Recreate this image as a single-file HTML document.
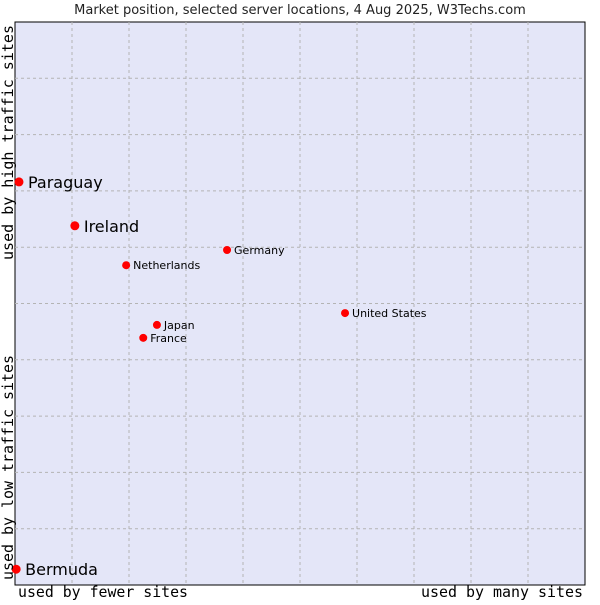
<!DOCTYPE html>
<html><head><meta charset="utf-8"><style>
body{margin:0;background:#fff;width:600px;height:600px;overflow:hidden}
svg{font-family:"DejaVu Sans","Liberation Sans",sans-serif}
</style></head><body>
<svg id="c" width="600" height="600">
<text x="300" y="14" text-anchor="middle" font-size="13" fill="#222">Market position, selected server locations, 4 Aug 2025, W3Techs.com</text>
<rect x="15" y="22" width="570" height="563" fill="#e4e6f8" stroke="#000" stroke-width="1"/>
<g id="grid"></g>
<g id="pts"></g>
<text x="18" y="597" textLength="170" lengthAdjust="spacingAndGlyphs" font-family="DejaVu Sans Mono,Liberation Mono,monospace" font-size="15">used by fewer sites</text>
<text x="421" y="597" textLength="162" lengthAdjust="spacingAndGlyphs" font-family="DejaVu Sans Mono,Liberation Mono,monospace" font-size="15">used by many sites</text>
<text transform="translate(13,260) rotate(-90)" textLength="235" lengthAdjust="spacingAndGlyphs" font-family="DejaVu Sans Mono,Liberation Mono,monospace" font-size="15">used by high traffic sites</text>
<text transform="translate(13,580) rotate(-90)" textLength="225" lengthAdjust="spacingAndGlyphs" font-family="DejaVu Sans Mono,Liberation Mono,monospace" font-size="15">used by low traffic sites</text>
</svg>
<script>
const names=["Paraguay","Ireland","Netherlands","Germany","United States","Japan","France","Bermuda"];
const xs=[0.7,10.5,19.5,37.2,57.9,24.9,22.5,0.2];
const ys=[71.6,63.8,56.8,59.5,48.3,46.2,43.9,2.8];
const big=[1,1,0,0,0,0,0,1];
const L=15,R=585,T=22,B=585;
const sx=v=>L+v/100*(R-L), sy=v=>B-v/100*(B-T);
const ns="http://www.w3.org/2000/svg";
const g=document.getElementById('grid');
for(let i=1;i<10;i++){
 let l=document.createElementNS(ns,'line');
 
 
 l.setAttribute('x1',sx(i*10));l.setAttribute('x2',sx(i*10));l.setAttribute('y1',T);l.setAttribute('y2',B);
 l.setAttribute('stroke','#b4b4b4');l.setAttribute('stroke-dasharray','3,3');g.appendChild(l);
 let h=document.createElementNS(ns,'line');
 
 
 h.setAttribute('y1',sy(i*10));h.setAttribute('y2',sy(i*10));h.setAttribute('x1',L);h.setAttribute('x2',R);
 h.setAttribute('stroke','#b4b4b4');h.setAttribute('stroke-dasharray','3,3');g.appendChild(h);
}
const p=document.getElementById('pts');
names.forEach((n,i)=>{
 const x=sx(xs[i]),y=sy(ys[i]);
 let c=document.createElementNS(ns,'circle');
 
 
 c.setAttribute('cx',x);c.setAttribute('cy',y);c.setAttribute('r',big[i]?4.5:4);c.setAttribute('fill','#f00');p.appendChild(c);
 let t=document.createElementNS(ns,'text');
 
 
 t.setAttribute('x',x+(big[i]?9:7));t.setAttribute('y',y+(big[i]?6:4));t.setAttribute('font-size',big[i]?16:11);
 t.textContent=n;p.appendChild(t);
});
</script>
</body></html>
